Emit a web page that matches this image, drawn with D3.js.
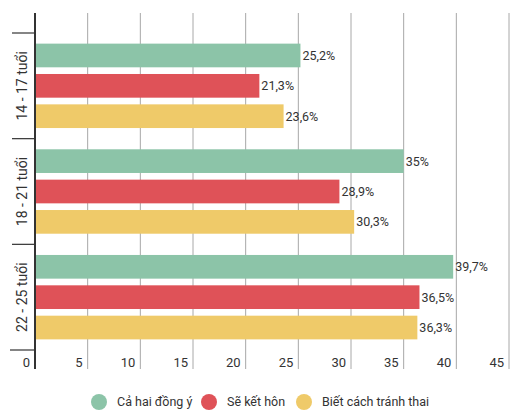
<!DOCTYPE html>
<html>
<head>
<meta charset="utf-8">
<script src="https://cdn.jsdelivr.net/npm/d3@7"></script>
<style>
  body { margin: 0; background: #fff; }
  text { font-family: Roboto, "Noto Sans", sans-serif; fill: #333; }
</style>
</head>
<body>
<script>
// Chart data
const groups = ["14 - 17 tuổi", "18 - 21 tuổi", "22 - 25 tuổi"];
const seriesNames = ["Cả hai đồng ý", "Sẽ kết hôn", "Biết cách tránh thai"];
const seriesColors = ["#8cc4a8", "#df5258", "#efca69"];
const bothAgree = [25.2, 35, 39.7];
const willMarry = [21.3, 28.9, 36.5];
const contraception = [23.6, 30.3, 36.3];
const xTicks = [0, 5, 10, 15, 20, 25, 30, 35, 40, 45];

const values = [bothAgree, willMarry, contraception];

const width = 524, height = 416;
const svg = d3.select("body").append("svg")
    .attr("width", width)
    .attr("height", height);

const x = d3.scaleLinear().domain([0, 45]).range([35, 509]); // value axis
const y = d3.scaleBand().domain(groups).range([33, 350]); // one band per age group
const inner = d3.scaleBand().domain(d3.range(seriesNames.length))
    .range([0, y.bandwidth()]).paddingInner(0.22).paddingOuter(0.35);

const gridTop = 13, gridBottom = 369;

// vertical grid lines
svg.append("g").selectAll("line")
    .data(xTicks.slice(1))
    .enter().append("line")
    .attr("x1", d => x(d)).attr("x2", d => x(d))
    .attr("y1", gridTop).attr("y2", gridBottom)
    .attr("stroke", "#a8a8a8")
    .attr("stroke-width", 1);

// bars
const rows = [];
groups.forEach((g, gi) => {
    values.forEach((vals, si) => rows.push({ group: g, si: si, v: vals[gi] }));
});

svg.append("g").selectAll("rect")
    .data(rows)
    .enter().append("rect")
    .attr("x", x(0))
    .attr("y", d => y(d.group) + inner(d.si))
    .attr("width", d => x(d.v) - x(0))
    .attr("height", inner.bandwidth())
    .attr("fill", d => seriesColors[d.si]);

// value labels
svg.append("g").selectAll("text")
    .data(rows)
    .enter().append("text")
    .attr("x", d => x(d.v) + 2)
    .attr("y", d => y(d.group) + inner(d.si) + inner.bandwidth() / 2)
    .attr("dy", "0.35em")
    .attr("font-size", 12.5)
    .text(d => String(d.v).replace(".", ",") + "%");

// x tick labels (right aligned to the grid line)
svg.append("g").selectAll("text")
    .data(xTicks)
    .enter().append("text")
    .attr("x", d => x(d) - 5)
    .attr("y", 362)
    .attr("dy", "0.35em")
    .attr("text-anchor", "end")
    .attr("font-size", 13)
    .text(d => d);

// category separators on the left of the axis
const seps = groups.map(g => y(g)).concat([y.range()[1]]);
svg.append("g").selectAll("line")
    .data(seps)
    .enter().append("line")
    .attr("x1", (d, i) => i === seps.length - 1 ? 10 : 12)
    .attr("x2", x(0))
    .attr("y1", d => d).attr("y2", d => d)
    .attr("stroke", "#333")
    .attr("stroke-width", 1.2);

// y axis line
svg.append("line")
    .attr("x1", x(0)).attr("x2", x(0))
    .attr("y1", gridTop).attr("y2", gridBottom)
    .attr("stroke", "#333")
    .attr("stroke-width", 2);

// rotated group labels
svg.append("g").selectAll("text")
    .data(groups)
    .enter().append("text")
    .attr("transform", d => `translate(22,${y(d) + y.bandwidth() / 2}) rotate(-90)`)
    .attr("text-anchor", "middle")
    .attr("dy", "0.35em")
    .attr("font-size", 14)
    .text(d => d);

// legend
const legendX = [99, 209, 304];
const legend = svg.append("g").selectAll("g")
    .data(seriesNames)
    .enter().append("g")
    .attr("transform", (d, i) => `translate(${legendX[i]},402)`);
legend.append("circle")
    .attr("r", 8)
    .attr("fill", (d, i) => seriesColors[i]);
legend.append("text")
    .attr("x", 18)
    .attr("dy", "0.35em")
    .attr("font-size", 12.5)
    .text(d => d);
</script>
</body>
</html>
